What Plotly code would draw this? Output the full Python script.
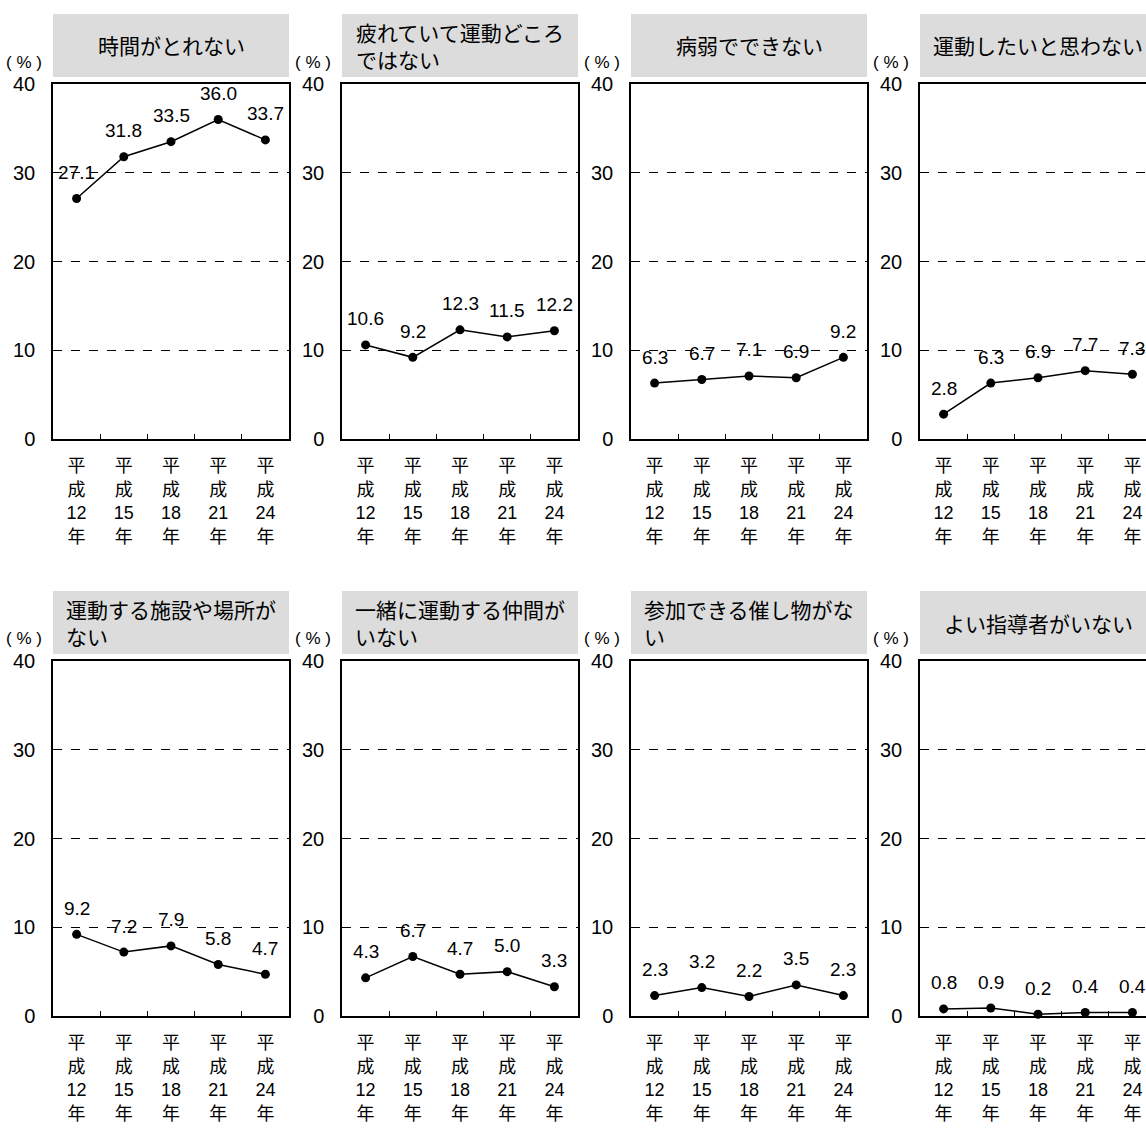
import plotly.graph_objects as go

# Survey years (Heisei era), stacked vertically under each point
years = ["平<br>成<br>12<br>年", "平<br>成<br>15<br>年", "平<br>成<br>18<br>年",
         "平<br>成<br>21<br>年", "平<br>成<br>24<br>年"]

titles = [
    "時間がとれない",
    "疲れていて運動どころ<br>ではない",
    "病弱でできない",
    "運動したいと思わない",
    "運動する施設や場所が<br>ない",
    "一緒に運動する仲間が<br>いない",
    "参加できる催し物がな<br>い",
    "よい指導者がいない",
]

no_time = [27.1, 31.8, 33.5, 36.0, 33.7]
too_tired = [10.6, 9.2, 12.3, 11.5, 12.2]
poor_health = [6.3, 6.7, 7.1, 6.9, 9.2]
no_desire = [2.8, 6.3, 6.9, 7.7, 7.3]
no_facility = [9.2, 7.2, 7.9, 5.8, 4.7]
no_partner = [4.3, 6.7, 4.7, 5.0, 3.3]
no_events = [2.3, 3.2, 2.2, 3.5, 2.3]
no_coach = [0.8, 0.9, 0.2, 0.4, 0.4]

series = [no_time, too_tired, poor_health, no_desire,
          no_facility, no_partner, no_events, no_coach]

y_ticks = [0, 10, 20, 30, 40]

W, H = 1146, 1129
col_left = [53, 342, 631, 920]
panel_w = 236
row_top = [84, 661]
panel_h = 355
box_h = 63
box_gap = 7

LATIN = "Liberation Sans, Arial, Noto Sans CJK JP"
CJK = "Noto Sans CJK JP, Liberation Sans"

fig = go.Figure()
layout = dict(
    width=W, height=H, autosize=False,
    margin=dict(l=0, r=0, t=0, b=0, pad=0),
    paper_bgcolor="white", plot_bgcolor="white",
    showlegend=False,
    font=dict(family=LATIN, color="black"),
)
shapes, annotations = [], []

unit = panel_w / 5.0
for i, vals in enumerate(series):
    r, c = divmod(i, 4)
    n = i + 1
    left = col_left[c]
    right = min(left + panel_w, W)
    top = row_top[r]
    bottom = top + panel_h
    xa, ya = f"xaxis{n}", f"yaxis{n}"
    xr, yr = f"x{n}", f"y{n}"

    layout[xa] = dict(
        domain=[left / W, right / W],
        range=[-0.5, -0.5 + (right - left) / unit],
        anchor=yr, automargin=False,
        tickmode="array", tickvals=list(range(5)), ticktext=years,
        ticks="", showgrid=False, zeroline=False,
        showline=True, linecolor="black", linewidth=1.5, mirror=True,
        tickfont=dict(size=18, family=LATIN),
        ticklabelstandoff=10,
        minor=dict(tickmode="array", tickvals=[0.5, 1.5, 2.5, 3.5],
                   ticks="inside", ticklen=5, tickcolor="black", tickwidth=1),
        fixedrange=True,
    )
    layout[ya] = dict(
        domain=[1 - bottom / H, 1 - top / H],
        range=[0, 40], anchor=xr, automargin=False,
        tickmode="array", tickvals=y_ticks,
        ticks="inside", ticklen=5, tickcolor="black",
        showgrid=True, gridcolor="black", gridwidth=1, griddash="dash",
        zeroline=False,
        showline=True, linecolor="black", linewidth=1.5,
        mirror=(c < 3),
        tickfont=dict(size=20, family=LATIN),
        ticklabelstandoff=12,
        fixedrange=True,
    )

    fig.add_trace(go.Scatter(
        x=list(range(5)), y=vals, xaxis=xr, yaxis=yr,
        mode="lines+markers",
        line=dict(color="black", width=1.5),
        marker=dict(size=9, color="black"),
        cliponaxis=False, hoverinfo="skip",
    ))

    # value labels above each point
    for j, v in enumerate(vals):
        annotations.append(dict(
            x=j, y=v, xref=xr, yref=yr, text=f"{v:.1f}",
            showarrow=False, yshift=26, xanchor="center", yanchor="middle",
            font=dict(size=19, family=LATIN, color="black"),
        ))

    # grey title box above the panel
    box_bottom = top - box_gap
    box_top = box_bottom - box_h
    shapes.append(dict(
        type="rect", xref="paper", yref="paper",
        x0=left / W, x1=right / W,
        y0=1 - box_bottom / H, y1=1 - box_top / H,
        fillcolor="#dcdcdc", line=dict(width=0), layer="below",
    ))
    annotations.append(dict(
        x=(left + panel_w / 2) / W, y=1 - (box_top + box_h / 2) / H,
        xref="paper", yref="paper", text=titles[i],
        showarrow=False, xanchor="center", yanchor="middle", align="left",
        font=dict(size=21, family=CJK, color="black"),
    ))
    # unit label
    annotations.append(dict(
        x=(left - 9) / W, y=1 - (top - 22) / H,
        xref="paper", yref="paper", text="( % )",
        showarrow=False, xanchor="right", yanchor="middle",
        font=dict(size=17, family=LATIN, color="black"),
    ))

layout["shapes"] = shapes
layout["annotations"] = annotations
fig.update_layout(**layout)

fig.write_html("out.html", config={"displayModeBar": False})
